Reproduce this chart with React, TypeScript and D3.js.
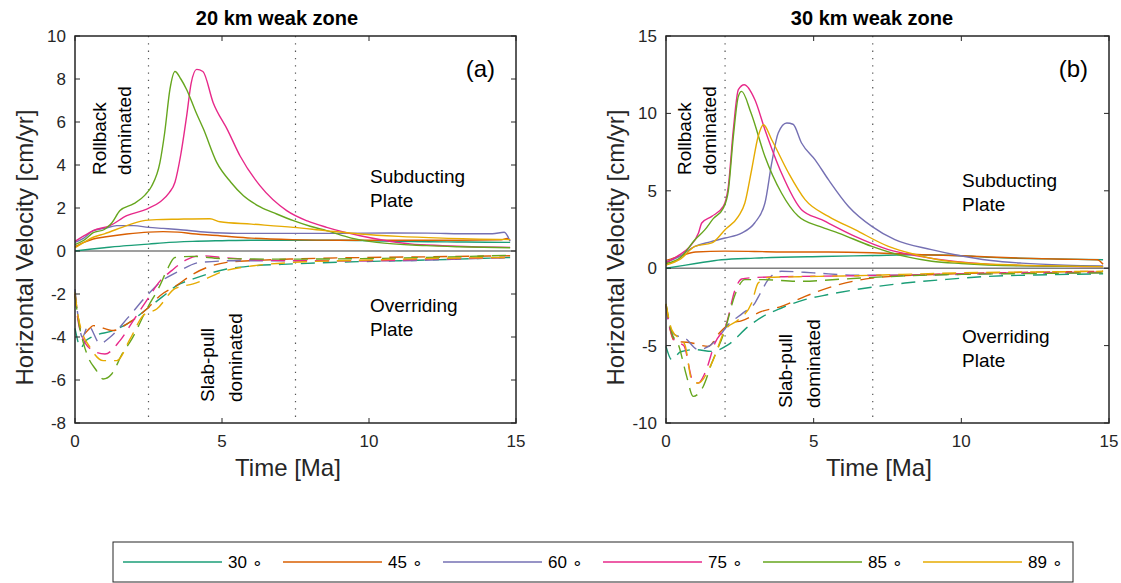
import React from "react";
import * as d3 from "d3";

type P = [number, number];

const angles = ["30", "45", "60", "75", "85", "89"];
const colors = ["#1b9e77", "#d95f02", "#7570b3", "#e7298a", "#66a61e", "#e6ab02"];

const xTicks = [0, 5, 10, 15];
const yTicksA = [-8, -6, -4, -2, 0, 2, 4, 6, 8, 10];
const yTicksB = [-10, -5, 0, 5, 10, 15];

// Panel (a): 20 km weak zone — subducting plate (solid)
const aSub30: P[] = [[0,0],[0.5,0.08],[1,0.15],[1.76,0.25],[2.5,0.32],[3,0.38],[4,0.45],[5,0.48],[6,0.5],[7.4,0.5],[9,0.5],[10,0.48],[11,0.45],[12,0.43],[13,0.42],[14,0.41],[14.8,0.4]];
const aSub45: P[] = [[0,0.2],[0.3,0.4],[0.62,0.56],[1,0.65],[1.76,0.79],[2.5,0.88],[3,0.9],[3.5,0.88],[4,0.8],[5,0.7],[6,0.6],[7.4,0.53],[9,0.5],[11,0.5],[13,0.5],[14.5,0.52],[14.7,0.58],[14.8,0.5]];
const aSub60: P[] = [[0,0.4],[0.3,0.6],[0.62,0.95],[1,1.05],[1.42,1.18],[2,1.18],[2.5,1.1],[3,1.05],[3.5,1.0],[4.5,0.87],[5.5,0.82],[7.4,0.82],[9,0.82],[10.8,0.84],[12,0.83],[13.5,0.8],[14.2,0.8],[14.6,0.87],[14.8,0.45]];
const aSub75: P[] = [[0,0.45],[0.3,0.7],[0.62,0.95],[1.19,1.18],[1.76,1.64],[2.44,1.95],[2.89,2.28],[3.2,2.7],[3.4,3.2],[3.6,4.5],[3.8,6.3],[3.95,7.8],[4.14,8.45],[4.35,8.35],[4.7,6.9],[5.2,5.6],[5.61,4.43],[6.29,3.04],[7.2,1.88],[7.9,1.4],[8.56,1.1],[9.7,0.71],[10.5,0.5],[11.4,0.33],[12.5,0.25],[13.5,0.2],[14.8,0.17]];
const aSub85: P[] = [[0,0.3],[0.3,0.5],[0.62,0.85],[1,1.0],[1.25,1.3],[1.53,1.88],[2,2.2],[2.38,2.6],[2.6,3.0],[2.89,4.12],[3.05,5.5],[3.23,7.53],[3.4,8.35],[3.6,8.0],[3.8,7.5],[4.1,6.5],[4.37,5.67],[4.82,4.12],[5.3,3.2],[5.73,2.57],[6.3,2.05],[6.86,1.72],[7.43,1.41],[8,1.15],[8.56,0.95],[9.4,0.6],[10.26,0.4],[11.96,0.25],[13,0.2],[14.8,0.15]];
const aSub89: P[] = [[0,0.15],[0.3,0.4],[0.62,0.64],[1,0.8],[1.76,1.18],[2.3,1.4],[2.78,1.46],[3.5,1.48],[4.59,1.5],[4.93,1.36],[6,1.25],[7.43,1.1],[8.5,0.95],[9.7,0.79],[11,0.68],[12.5,0.6],[14.8,0.53]];

// Panel (a): overriding plate (dashed)
const aOvr30: P[] = [[0,-3.6],[0.2,-4.5],[0.35,-4.2],[0.57,-4.0],[1.3,-3.7],[1.76,-3.4],[2.44,-2.7],[3.0,-2.1],[3.46,-1.61],[4.02,-1.3],[5.16,-0.84],[6,-0.7],[7.43,-0.6],[9,-0.52],[10.8,-0.46],[13,-0.38],[14.8,-0.3]];
const aOvr45: P[] = [[0,-2.0],[0.1,-3.0],[0.25,-3.9],[0.5,-3.6],[0.62,-3.47],[1.3,-3.7],[1.76,-3.4],[2.44,-2.7],[2.89,-2.08],[3.46,-1.6],[4.02,-1.07],[5.16,-0.53],[6,-0.45],[7.43,-0.37],[10,-0.3],[12,-0.27],[14.8,-0.22]];
const aOvr60: P[] = [[0,-1.77],[0.1,-3.0],[0.25,-4.0],[0.45,-3.47],[0.85,-4.3],[1.2,-4.0],[1.8,-3.1],[2.44,-2.08],[2.89,-1.46],[3.57,-0.91],[4.25,-0.53],[5.5,-0.45],[7.5,-0.45],[10.8,-0.46],[13,-0.38],[14.8,-0.3]];
const aOvr75: P[] = [[0,-2.0],[0.1,-3.2],[0.23,-3.94],[0.62,-4.64],[1.02,-4.79],[1.53,-4.17],[2.0,-3.2],[2.44,-2.3],[2.89,-1.4],[3.3,-0.9],[3.8,-0.4],[4.25,-0.22],[5,-0.3],[6,-0.4],[7.5,-0.45],[10,-0.45],[12,-0.38],[14.8,-0.3]];
const aOvr85: P[] = [[0,-2.08],[0.15,-3.5],[0.28,-4.25],[0.45,-4.95],[0.7,-5.5],[0.96,-5.95],[1.25,-5.72],[1.6,-4.8],[1.93,-4.1],[2.44,-2.7],[2.89,-1.6],[3.12,-0.91],[3.4,-0.3],[4,-0.25],[5,-0.35],[7,-0.38],[10,-0.35],[12,-0.3],[14.8,-0.2]];
const aOvr89: P[] = [[0,-1.92],[0.1,-3.0],[0.2,-3.6],[0.51,-4.48],[0.96,-5.1],[1.42,-5.1],[1.87,-4.1],[2.32,-3.0],[2.78,-2.7],[3.4,-1.75],[4.02,-1.53],[5.16,-0.9],[6,-0.7],[7.43,-0.53],[10,-0.42],[12,-0.35],[14.8,-0.3]];

// Panel (b): 30 km weak zone — subducting plate (solid)
const bSub30: P[] = [[0,0],[0.5,0.15],[1,0.3],[1.88,0.55],[3,0.65],[5.27,0.76],[7,0.82],[8.5,0.87],[10,0.8],[11,0.7],[13,0.6],[14.8,0.55]];
const bSub45: P[] = [[0,0.5],[0.5,0.8],[1,1.05],[2,1.1],[3,1.08],[4,1.05],[5.5,1.05],[7,1.0],[8.66,0.87],[10,0.8],[12,0.65],[13.5,0.58],[14.6,0.55],[14.8,0.25]];
const bSub60: P[] = [[0,0.4],[0.4,0.7],[0.98,1.41],[1.5,1.7],[2.0,1.95],[2.56,2.27],[3.0,2.92],[3.35,4.21],[3.58,6.8],[3.8,8.74],[4.09,9.38],[4.3,9.3],[4.59,8.09],[5.05,7.0],[5.5,5.72],[6.18,3.99],[6.97,2.7],[7.75,1.84],[8.99,1.2],[9.79,0.87],[11,0.5],[12.04,0.33],[13.5,0.2],[14.8,0.15]];
const bSub75: P[] = [[0,0.35],[0.4,0.8],[0.76,1.3],[1.1,2.27],[1.21,2.92],[1.55,3.35],[1.94,3.99],[2.11,5.28],[2.28,8.95],[2.45,11.53],[2.65,11.85],[3.01,10.88],[3.35,8.95],[3.91,6.15],[4.59,3.78],[5.27,3.13],[6.4,2.05],[7.53,1.2],[8.5,0.8],[9.79,0.44],[11,0.25],[12.5,0.15],[14.8,0.1]];
const bSub85: P[] = [[0,0.3],[0.5,0.7],[0.98,1.84],[1.32,2.49],[1.6,3.2],[1.94,3.88],[2.11,5.0],[2.28,8.5],[2.45,11.1],[2.56,11.42],[2.88,10.02],[3.35,7.22],[3.91,4.86],[4.48,3.35],[5.2,2.7],[5.84,2.27],[6.97,1.41],[8.09,0.76],[9,0.45],[10,0.3],[12,0.15],[14.8,0.1]];
const bSub89: P[] = [[0,0.2],[0.5,0.6],[0.98,1.41],[1.55,1.63],[2.0,2.49],[2.45,3.35],[2.67,4.21],[2.9,6.36],[3.12,8.51],[3.3,9.27],[3.58,8.3],[4.15,6.15],[4.71,4.43],[5.5,3.35],[6.4,2.49],[7.53,1.41],[8.4,0.9],[9.22,0.55],[10.5,0.3],[12,0.2],[14.8,0.1]];

// Panel (b): overriding plate (dashed)
const bOvr30: P[] = [[0,-5.05],[0.19,-5.9],[0.5,-5.4],[0.98,-5.26],[1.55,-5.37],[2.11,-4.94],[2.79,-3.76],[3.3,-3.1],[3.91,-2.57],[4.7,-2.03],[5.5,-1.7],[6.4,-1.39],[8.09,-0.96],[9.5,-0.72],[10.91,-0.53],[13,-0.42],[14.8,-0.36]];
const bOvr45: P[] = [[0,-2.36],[0.14,-3.97],[0.3,-4.73],[0.8,-4.8],[1.43,-5.05],[1.8,-4.2],[2.21,-3.54],[2.55,-3.4],[3.24,-2.79],[3.91,-2.47],[4.71,-1.82],[5.84,-1.07],[6.97,-0.64],[8.5,-0.45],[10,-0.35],[12,-0.27],[14.8,-0.2]];
const bOvr60: P[] = [[0,-2.4],[0.12,-3.8],[0.3,-4.3],[0.64,-4.51],[1.09,-5.26],[1.66,-4.73],[2.11,-3.65],[2.6,-2.9],[3.01,-2.25],[3.2,-1.6],[3.46,-0.74],[3.91,-0.2],[5,-0.3],[6.4,-0.45],[8,-0.45],[10,-0.4],[12,-0.33],[14.8,-0.3]];
const bOvr75: P[] = [[0,-2.4],[0.15,-4.0],[0.3,-4.7],[0.6,-5.0],[0.92,-7.31],[1.09,-7.42],[1.32,-6.77],[1.66,-4.83],[2.05,-3.54],[2.34,-1.39],[2.56,-0.7],[3,-0.6],[4,-0.55],[6,-0.5],[8,-0.45],[10,-0.35],[12,-0.3],[14.8,-0.25]];
const bOvr85: P[] = [[0,-2.3],[0.2,-4.2],[0.42,-4.94],[0.7,-6.99],[0.92,-8.28],[1.26,-7.64],[1.55,-6.13],[2.0,-3.97],[2.34,-1.7],[2.67,-0.74],[3.3,-0.74],[4.5,-0.85],[6,-0.7],[8,-0.5],[10,-0.4],[12,-0.35],[14.8,-0.3]];
const bOvr89: P[] = [[0,-2.3],[0.2,-4.0],[0.64,-4.94],[0.87,-7.2],[1.09,-7.42],[1.55,-6.13],[2.0,-4.0],[2.45,-3.33],[2.9,-2.25],[3.12,-0.96],[3.46,-0.6],[4.5,-0.55],[6,-0.5],[8,-0.4],[10,-0.3],[12,-0.25],[14.8,-0.2]];

const aSub = [aSub30, aSub45, aSub60, aSub75, aSub85, aSub89];
const aOvr = [aOvr30, aOvr45, aOvr60, aOvr75, aOvr85, aOvr89];
const bSub = [bSub30, bSub45, bSub60, bSub75, bSub85, bSub89];
const bOvr = [bOvr30, bOvr45, bOvr60, bOvr75, bOvr85, bOvr89];

const FONT = "'Liberation Sans', Arial, Helvetica, sans-serif";

type PanelProps = {
  x0: number; x1: number; yTop: number; yBot: number;
  yDomain: [number, number]; yTicks: number[];
  sub: P[][]; ovr: P[][]; dotted: number[];
  title: string; titleX: number; tag: string;
  yLabelX: number; xLabelX: number;
  roll: [number, number]; slab: [number, number]; slabY: number;
  subTxt: [number, number]; ovrTxt: [number, number];
};

function Panel(p: PanelProps) {
  const x = d3.scaleLinear().domain([0, 15]).range([p.x0, p.x1]);
  const y = d3.scaleLinear().domain(p.yDomain).range([p.yBot, p.yTop]);
  const line = d3.line<P>().x(d => x(d[0])).y(d => y(d[1])).curve(d3.curveMonotoneX);
  const tl = 5;
  const midY = (p.yTop + p.yBot) / 2;
  return (
    <g fontFamily={FONT}>
      <text x={p.titleX} y={25} fontSize={20} fontWeight="bold" textAnchor="middle" fill="#000">{p.title}</text>
      <line x1={p.x0} x2={p.x1} y1={y(0)} y2={y(0)} stroke="#7f7f7f" strokeWidth={1.5} />
      {p.dotted.map((t, i) => (
        <line key={i} x1={x(t)} x2={x(t)} y1={p.yTop} y2={p.yBot} stroke="#555" strokeWidth={1.2} strokeDasharray="1.3 6" />
      ))}
      {p.sub.map((s, i) => (
        <path key={"s" + i} d={line(s) || ""} fill="none" stroke={colors[i]} strokeWidth={1.4} />
      ))}
      {p.ovr.map((s, i) => (
        <path key={"o" + i} d={line(s) || ""} fill="none" stroke={colors[i]} strokeWidth={1.4} strokeDasharray="14 8" />
      ))}
      <rect x={p.x0} y={p.yTop} width={p.x1 - p.x0} height={p.yBot - p.yTop} fill="none" stroke="#262626" strokeWidth={1.5} />
      {xTicks.map(t => (
        <g key={"xt" + t}>
          <line x1={x(t)} x2={x(t)} y1={p.yBot} y2={p.yBot - tl} stroke="#262626" strokeWidth={1} />
          <line x1={x(t)} x2={x(t)} y1={p.yTop} y2={p.yTop + tl} stroke="#262626" strokeWidth={1} />
          <text x={x(t)} y={p.yBot + 24} fontSize={17} textAnchor="middle" fill="#262626">{t}</text>
        </g>
      ))}
      {p.yTicks.map(t => (
        <g key={"yt" + t}>
          <line x1={p.x0} x2={p.x0 + tl} y1={y(t)} y2={y(t)} stroke="#262626" strokeWidth={1} />
          <line x1={p.x1} x2={p.x1 - tl} y1={y(t)} y2={y(t)} stroke="#262626" strokeWidth={1} />
          <text x={p.x0 - 9} y={y(t) + 6} fontSize={17} textAnchor="end" fill="#262626">{t}</text>
        </g>
      ))}
      <text x={p.xLabelX} y={476} fontSize={24} textAnchor="middle" fill="#262626">Time [Ma]</text>
      <text transform={`translate(${p.yLabelX},${midY + 18}) rotate(-90)`} fontSize={24} textAnchor="middle" fill="#262626">Horizontal Velocity [cm/yr]</text>
      <text x={p.x1 - 21} y={77} fontSize={24} textAnchor="end" fill="#000">{p.tag}</text>
      <text transform={`translate(${p.roll[0]},175) rotate(-90)`} fontSize={19} fill="#000">Rollback</text>
      <text transform={`translate(${p.roll[1]},175) rotate(-90)`} fontSize={19} fill="#000">dominated</text>
      <text transform={`translate(${p.slab[0]},${p.slabY}) rotate(-90)`} fontSize={19} fill="#000">Slab-pull</text>
      <text transform={`translate(${p.slab[1]},${p.slabY}) rotate(-90)`} fontSize={19} fill="#000">dominated</text>
      <text x={p.subTxt[0]} y={p.subTxt[1]} fontSize={19} fill="#000">Subducting</text>
      <text x={p.subTxt[0]} y={p.subTxt[1] + 23.5} fontSize={19} fill="#000">Plate</text>
      <text x={p.ovrTxt[0]} y={p.ovrTxt[1]} fontSize={19} fill="#000">Overriding</text>
      <text x={p.ovrTxt[0]} y={p.ovrTxt[1] + 24} fontSize={19} fill="#000">Plate</text>
    </g>
  );
}

function Legend() {
  const x0 = 113, y0 = 542, w = 960, h = 40;
  const step = 160, lineStart = 123, lineLen = 99;
  const idx = d3.range(angles.length);
  return (
    <g fontFamily={FONT}>
      <rect x={x0} y={y0} width={w} height={h} fill="#fff" stroke="#262626" strokeWidth={1} />
      {idx.map(i => {
        const lx = lineStart + i * step;
        return (
          <g key={i}>
            <line x1={lx} x2={lx + lineLen} y1={562} y2={562} stroke={colors[i]} strokeWidth={1.6} />
            <text x={lx + 105} y={568} fontSize={17} fill="#000">{angles[i] + " \u2218"}</text>
          </g>
        );
      })}
    </g>
  );
}

export default function App() {
  return (
    <svg width={1121} height={583} style={{ position: "absolute", left: 0, top: 0, background: "#fff" }}>
      <rect x={0} y={0} width={1121} height={583} fill="#fff" />
      <Panel x0={75} x1={516} yTop={36} yBot={423} yDomain={[-8, 10]} yTicks={yTicksA}
        sub={aSub} ovr={aOvr} dotted={[2.5, 7.5]}
        title="20 km weak zone" titleX={277} tag="(a)"
        yLabelX={33} xLabelX={288}
        roll={[106, 131]} slab={[214, 242]} slabY={402}
        subTxt={[370, 183]} ovrTxt={[370, 312]} />
      <Panel x0={666} x1={1109} yTop={36} yBot={423} yDomain={[-10, 15]} yTicks={yTicksB}
        sub={bSub} ovr={bOvr} dotted={[2, 7]}
        title="30 km weak zone" titleX={872} tag="(b)"
        yLabelX={624} xLabelX={879}
        roll={[691, 716]} slab={[792, 820]} slabY={408}
        subTxt={[962, 187]} ovrTxt={[962, 343]} />
      <Legend />
    </svg>
  );
}
